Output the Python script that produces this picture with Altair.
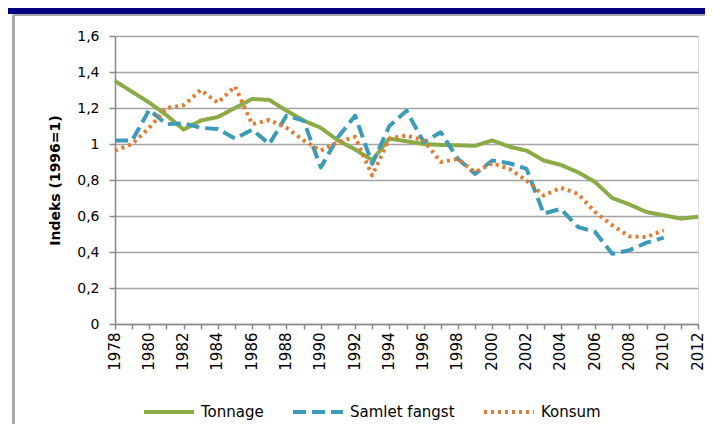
import altair as alt
import pandas as pd

years = list(range(1978, 2013))
tonnage = [1.35, 1.29, 1.23, 1.16, 1.08, 1.13, 1.15, 1.20, 1.25, 1.245, 1.185, 1.13, 1.09, 1.02,
           0.97, 0.91, 1.03, 1.015, 1.0, 0.995, 0.993, 0.99, 1.02, 0.985, 0.963, 0.908, 0.884,
           0.843, 0.788, 0.70, 0.664, 0.622, 0.604, 0.585, 0.596]
fangst_years = list(range(1978, 2011))
fangst = [1.02, 1.02, 1.19, 1.11, 1.115, 1.09, 1.083, 1.03, 1.08, 1.00, 1.157, 1.13, 0.87, 1.037,
          1.157, 0.89, 1.10, 1.185, 1.01, 1.065, 0.917, 0.834, 0.908, 0.893, 0.862, 0.613, 0.64,
          0.539, 0.511, 0.39, 0.41, 0.452, 0.48]
konsum_years = list(range(1978, 2011))
konsum = [0.963, 1.0, 1.09, 1.20, 1.215, 1.30, 1.229, 1.32, 1.11, 1.133, 1.09, 1.02, 0.963, 1.01,
          1.04, 0.825, 1.03, 1.047, 1.02, 0.90, 0.917, 0.843, 0.893, 0.862, 0.797, 0.714, 0.757,
          0.723, 0.622, 0.548, 0.487, 0.483, 0.52]

series_names = ["Tonnage", "Samlet fangst", "Konsum"]
series_colors = ["#8BAB46", "#3B9BB8", "#E27B2F"]
series_dash = [[1, 0], [13, 6], [3, 4]]
y_ticks = [0, 0.2, 0.4, 0.6, 0.8, 1.0, 1.2, 1.4, 1.6]

rows = []
for y, v in zip(years, tonnage):
    rows.append({"year": y, "value": v, "serie": "Tonnage"})
for y, v in zip(fangst_years, fangst):
    rows.append({"year": y, "value": v, "serie": "Samlet fangst"})
for y, v in zip(konsum_years, konsum):
    rows.append({"year": y, "value": v, "serie": "Konsum"})
df = pd.DataFrame(rows)

FONT = "DejaVu Sans"

lines = alt.Chart(df).mark_line(strokeWidth=4, strokeJoin="round").encode(
    x=alt.X("year:Q",
            scale=alt.Scale(domain=[1978, 2012], nice=False, zero=False),
            axis=alt.Axis(values=years, labelExpr="datum.value % 2 == 0 ? datum.value : ''",
                          labelAngle=-90, labelAlign="right", labelBaseline="middle",
                          labelOverlap=False, labelPadding=3, labelOffset=-1, tickSize=5,
                          grid=False, title=None, labelFont=FONT, labelFontSize=15,
                          labelColor="#000", labelBound=False, labelFlush=False,
                          domainColor="#888", domainWidth=1.5, tickColor="#888", tickWidth=1.5)),
    y=alt.Y("value:Q",
            scale=alt.Scale(domain=[0, 1.6], nice=False),
            axis=alt.Axis(values=y_ticks,
                          labelExpr="datum.value == 0 ? '0' : datum.value == 1 ? '1' : replace(format(datum.value, '.1f'), '.', ',')",
                          title="Indeks (1996=1)", titleFont=FONT, titleFontSize=14,
                          titleFontWeight="bold", titleColor="#000", titlePadding=14,
                          labelFont=FONT, labelFontSize=14, labelColor="#000", labelPadding=10,
                          tickSize=6, grid=True, gridColor="#a3a3a3", gridWidth=1.5,
                          domainColor="#888", domainWidth=1.5, tickColor="#888", tickWidth=1.5)),
    color=alt.Color("serie:N",
                    scale=alt.Scale(domain=series_names, range=series_colors),
                    sort=series_names,
                    legend=alt.Legend(title=None, orient="none", legendX=27, legendY=349,
                                      direction="horizontal", symbolType="stroke",
                                      symbolSize=2500, symbolStrokeWidth=4,
                                      labelFont=FONT, labelFontSize=15, labelColor="#000",
                                      labelOffset=5, columnPadding=21)),
    strokeDash=alt.StrokeDash("serie:N",
                              scale=alt.Scale(domain=series_names, range=series_dash),
                              sort=series_names, legend=None),
    order=alt.Order("year:Q"),
)

header = alt.Chart(df).mark_rect(color="#000080").encode(
    x=alt.value(-107), x2=alt.value(600), y=alt.value(-28), y2=alt.value(-22))
frame_top = alt.Chart(df).mark_rule(color="#a6a6a6", strokeWidth=1.5).encode(
    x=alt.value(-101.5), x2=alt.value(600), y=alt.value(-21))
frame_left = alt.Chart(df).mark_rule(color="#a6a6a6", strokeWidth=1.5).encode(
    x=alt.value(-101.5), y=alt.value(-21), y2=alt.value(400))

chart = alt.layer(header, frame_top, frame_left, lines).properties(
    width=583, height=288,
    autosize=alt.AutoSizeParams(type="none"),
    padding={"left": 107, "top": 28, "right": 7, "bottom": 100},
).configure_view(stroke=None).configure(background="white")

chart.save("out.html", embed_options={"renderer": "svg", "actions": False})
